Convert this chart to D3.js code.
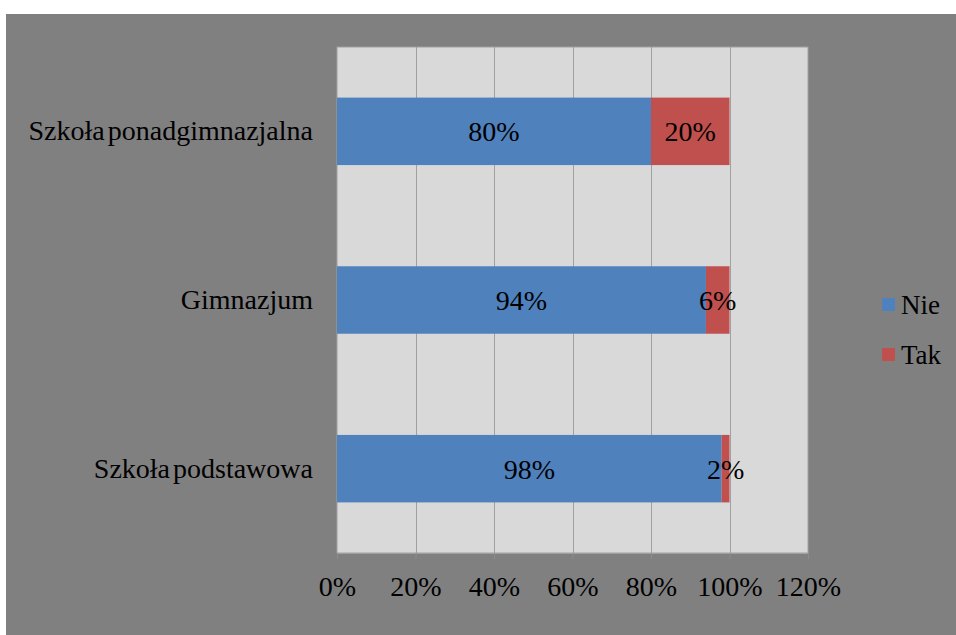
<!DOCTYPE html>
<html>
<head>
<meta charset="utf-8">
<script src="https://cdn.jsdelivr.net/npm/d3@7"></script>
<style>
  html, body { margin: 0; padding: 0; background: #ffffff; }
  svg { display: block; }
  svg text { font-family: "Liberation Serif", "Tinos", "Times New Roman", Times, "DejaVu Serif", serif !important; fill: #000; }
</style>
</head>
<body>
<svg id="chart" width="956" height="635"></svg>
<script>
// Data (top-level arrays)
const categories = ["Szkoła podstawowa", "Gimnazjum", "Szkoła ponadgimnazjalna"];
const seriesNames = ["Nie", "Tak"];
const nieValues = [98, 94, 80];
const takValues = [2, 6, 20];
const xTicks = [0, 20, 40, 60, 80, 100, 120];
const seriesColors = ["#4f81bd", "#c0504d"];

const svg = d3.select("#chart");
const W = 956, H = 635;

// Outer chart area
svg.append("rect").attr("x", 6).attr("y", 14).attr("width", W - 6).attr("height", H - 14)
  .attr("fill", "#808080");

const plot = { left: 337, top: 47, right: 808, bottom: 553 };

const x = d3.scaleLinear().domain([0, 120]).range([plot.left, plot.right]);
const y = d3.scaleBand().domain(categories.slice().reverse())
  .range([plot.top, plot.bottom]).paddingInner(0.6).paddingOuter(0.3);

// Plot background
svg.append("rect").attr("x", plot.left).attr("y", plot.top)
  .attr("width", plot.right - plot.left).attr("height", plot.bottom - plot.top)
  .attr("fill", "#d9d9d9").attr("stroke", "#a0a0a0").attr("stroke-width", 1);

// Vertical gridlines
svg.append("g").selectAll("line").data(xTicks.filter(t => t > 0 && t < 120)).join("line")
  .attr("x1", d => Math.round(x(d)) + 0.5).attr("x2", d => Math.round(x(d)) + 0.5)
  .attr("y1", plot.top).attr("y2", plot.bottom)
  .attr("stroke", "#a0a0a0").attr("stroke-width", 1);

// Stacked data
const rows = categories.map((c, i) => ({ cat: c, Nie: nieValues[i], Tak: takValues[i] }));
const stack = d3.stack().keys(seriesNames)(rows);

const groups = svg.append("g").selectAll("g").data(stack).join("g")
  .attr("fill", (d, i) => seriesColors[i]);

groups.selectAll("rect").data(d => d).join("rect")
  .attr("x", d => x(d[0]))
  .attr("width", d => x(d[1]) - x(d[0]))
  .attr("y", d => y(d.data.cat))
  .attr("height", y.bandwidth());

// Data labels
const labels = svg.append("g");
stack.forEach(s => {
  s.forEach(d => {
    labels.append("text")
      .attr("x", (x(d[0]) + x(d[1])) / 2)
      .attr("y", y(d.data.cat) + y.bandwidth() / 2 + 10)
      .attr("text-anchor", "middle")
      .attr("font-size", 28)
      .text((d[1] - d[0]) + "%");
  });
});

// X axis
const xAxis = svg.append("g").attr("transform", `translate(0,${plot.bottom})`)
  .call(d3.axisBottom(x).tickValues(xTicks).tickFormat(d => d + "%").tickSize(6).tickPadding(28));
xAxis.attr("font-family", null);
xAxis.select(".domain").attr("stroke", "#a0a0a0");
xAxis.selectAll(".tick line").attr("stroke", "#8c8c8c");
xAxis.selectAll(".tick text").attr("font-size", 28).attr("fill", "#000").attr("dy", "0.32em");

// Y axis labels
const yAxis = svg.append("g").attr("transform", `translate(${plot.left},0)`)
  .call(d3.axisLeft(y).tickSize(0).tickPadding(24));
yAxis.attr("font-family", null);
yAxis.select(".domain").remove();
yAxis.selectAll(".tick text").attr("font-size", 28)
  .attr("fill", "#000").attr("word-spacing", "-4px").attr("dy", "0.32em");

// Legend
const legend = svg.append("g");
seriesNames.forEach((n, i) => {
  const ly = 305 + i * 50;
  legend.append("rect").attr("x", 882).attr("y", ly - 7).attr("width", 13).attr("height", 13)
    .attr("fill", seriesColors[i]);
  legend.append("text").attr("x", 901).attr("y", ly + 9).attr("font-size", 27).text(n);
});
</script>
</body>
</html>
